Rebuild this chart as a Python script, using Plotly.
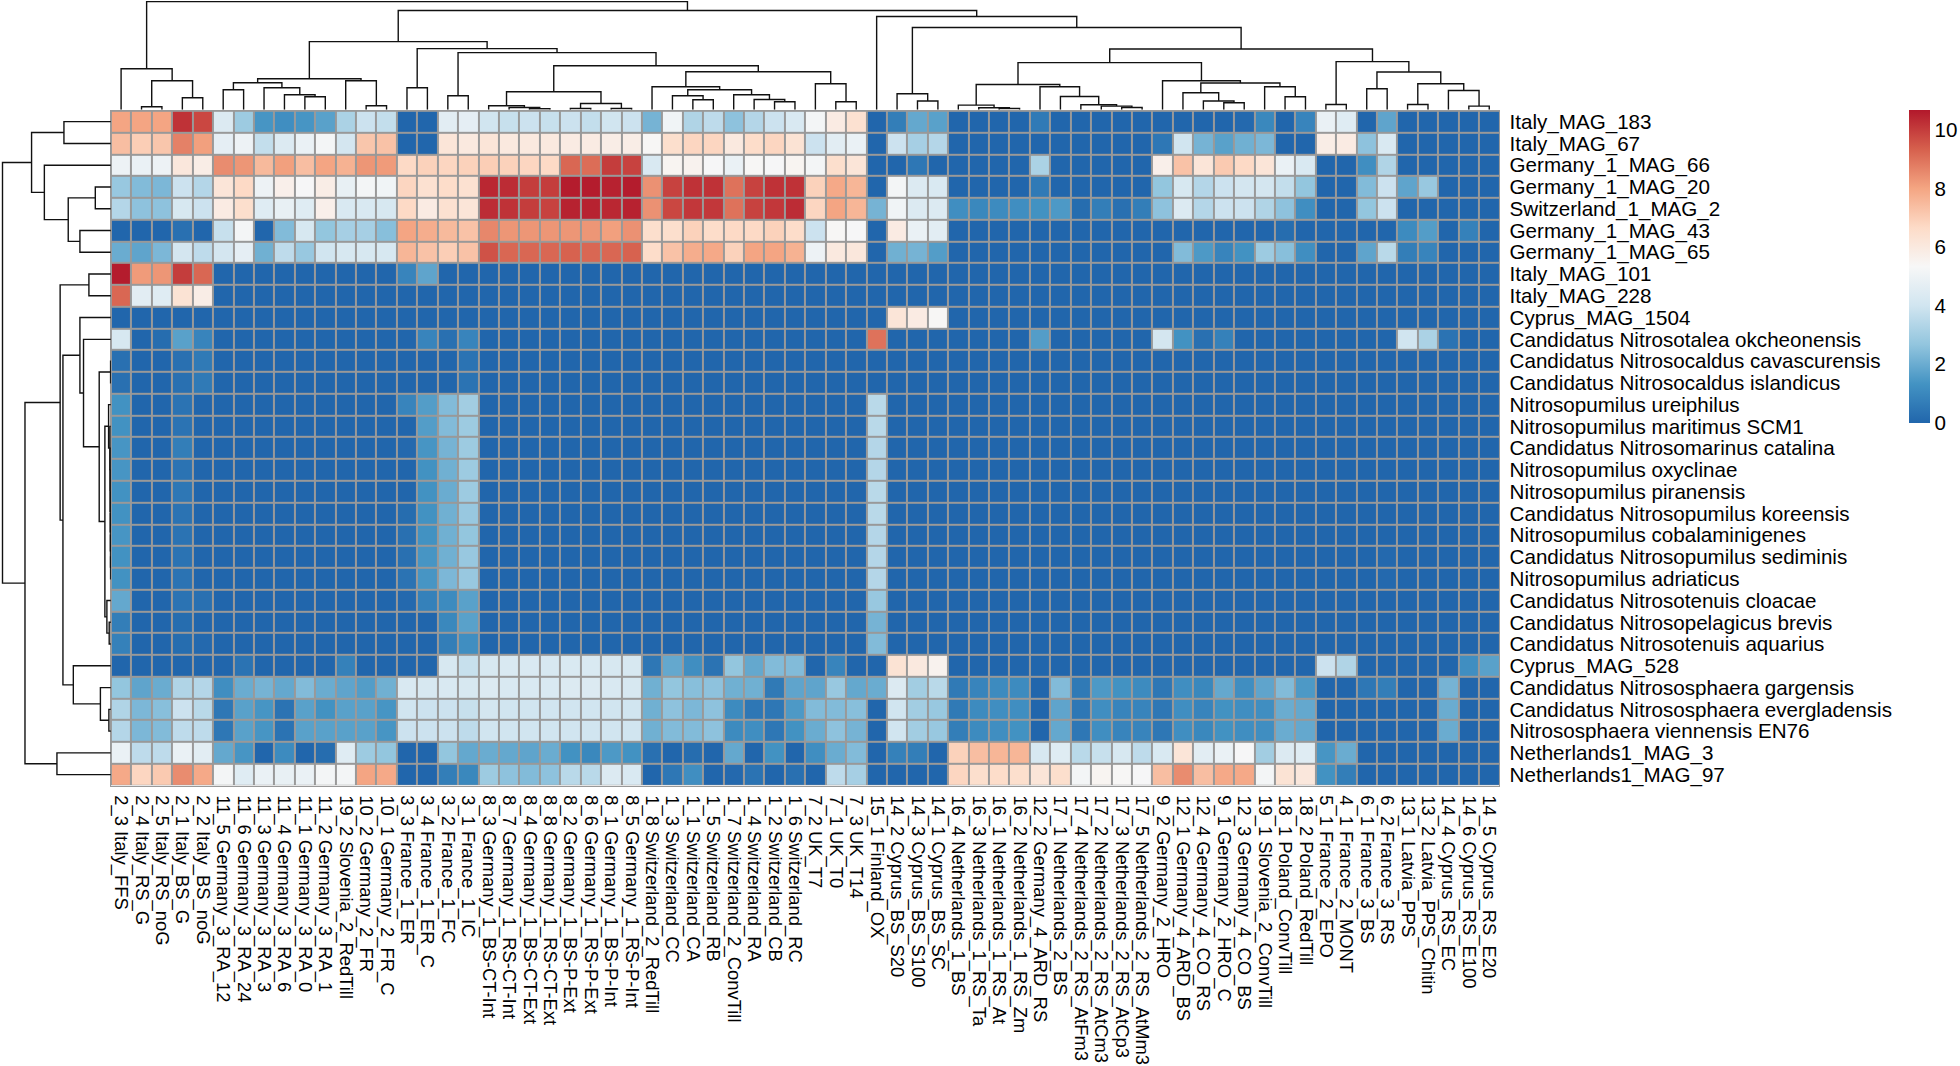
import plotly.graph_objects as go

W, H = 1960, 1066
HM_L, HM_R, HM_T, HM_B = 110, 1500, 110, 786

row_labels = ["Italy_MAG_183","Italy_MAG_67","Germany_1_MAG_66","Germany_1_MAG_20","Switzerland_1_MAG_2",
"Germany_1_MAG_43","Germany_1_MAG_65","Italy_MAG_101","Italy_MAG_228","Cyprus_MAG_1504",
"Candidatus Nitrosotalea okcheonensis","Candidatus Nitrosocaldus cavascurensis","Candidatus Nitrosocaldus islandicus",
"Nitrosopumilus ureiphilus","Nitrosopumilus maritimus SCM1","Candidatus Nitrosomarinus catalina","Nitrosopumilus oxyclinae",
"Nitrosopumilus piranensis","Candidatus Nitrosopumilus koreensis","Nitrosopumilus cobalaminigenes",
"Candidatus Nitrosopumilus sediminis","Nitrosopumilus adriaticus","Candidatus Nitrosotenuis cloacae",
"Candidatus Nitrosopelagicus brevis","Candidatus Nitrosotenuis aquarius","Cyprus_MAG_528",
"Candidatus Nitrososphaera gargensis","Candidatus Nitrososphaera evergladensis","Nitrososphaera viennensis EN76",
"Netherlands1_MAG_3","Netherlands1_MAG_97"]

col_labels = ["2_3 Italy_FFS","2_4 Italy_RS_G","2_5 Italy_RS_noG","2_1 Italy_BS_G","2_2 Italy_BS_noG",
"11_5 Germany_3_RA_12","11_6 Germany_3_RA_24","11_3 Germany_3_RA_3","11_4 Germany_3_RA_6","11_1 Germany_3_RA_0",
"11_2 Germany_3_RA_1","19_2 Slovenia_2_RedTill","10_2 Germany_2_FR","10_1 Germany_2_FR_C",
"3_3 France_1_ER","3_4 France_1_ER_C","3_2 France_1_FC","3_1 France_1_IC",
"8_3 Germany_1_BS-CT-Int","8_7 Germany_1_RS-CT-Int","8_4 Germany_1_BS-CT-Ext","8_8 Germany_1_RS-CT-Ext",
"8_2 Germany_1_BS-P-Ext","8_6 Germany_1_RS-P-Ext","8_1 Germany_1_BS-P-Int","8_5 Germany_1_RS-P-Int",
"1_8 Switzerland_2_RedTill","1_3 Switzerland_CC","1_1 Switzerland_CA","1_5 Switzerland_RB",
"1_7 Switzerland_2_ConvTill","1_4 Switzerland_RA","1_2 Switzerland_CB","1_6 Switzerland_RC",
"7_2 UK_T7","7_1 UK_T0","7_3 UK_T14","15_1 Finland_OX","14_2 Cyprus_BS_S20","14_3 Cyprus_BS_S100","14_1 Cyprus_BS_SC",
"16_4 Netherlands_1_BS","16_3 Netherlands_1_RS_Ta","16_1 Netherlands_1_RS_At","16_2 Netherlands_1_RS_Zm",
"12_2 Germany_4_ARD_RS","17_1 Netherlands_2_BS","17_4 Netherlands_2_RS_AtFm3","17_2 Netherlands_2_RS_AtCm3",
"17_3 Netherlands_2_RS_AtCp3","17_5 Netherlands_2_RS_AtMm3","9_2 Germany_2_HRO","12_1 Germany_4_ARD_BS",
"12_4 Germany_4_CO_RS","9_1 Germany_2_HRO_C","12_3 Germany_4_CO_BS","19_1 Slovenia_2_ConvTill",
"18_1 Poland_ConvTill","18_2 Poland_RedTill","5_1 France_2_EPO","4_1 France_2_MONT","6_1 France_3_BS","6_2 France_3_RS",
"13_1 Latvia_PPS","13_2 Latvia_PPS_Chitin","14_4 Cyprus_RS_EC","14_6 Cyprus_RS_E100","14_5 Cyprus_RS_E20"]

# values read per row; groups on each row follow the column clusters
values = [
[8,8,8,10.2,9.8, 4.4,2.9,1.4,1.2,1.4,1.7,3.2,3.9,3.7, 0,0,4.6,4.7, 4,3.8,3.9,3.8,3.9,3.7,4,3.9, 2.2,5.1,3.3,3.6,2.6,3.4,3.9,4.3, 5.2,5.9,6.4, 0, 0.7,1.9,1.7, 0,0,0,0,0.6,0,0,0,0,0, 0,0,0,0,0.1,1.0,0,0.9, 4.9,4.5, 0,1.8, 0,0, 0,0,0],
[7.4,7.0,7.2,8.7,8.1, 4.7,5.0,3.7,4.4,4.9,5.2,4.1,7.2,7.3, 0,0,6.2,6.0, 6.2,6.0,6.0,6.0,5.9,5.9,5.8,5.8, 5.4,6.5,6.8,6.8,6.0,6.6,6.8,6.3, 3.9,4.6,4.9, 0, 3.9,3.1,3.4, 0,0,0,0,0,0,0,0,0,0, 0.5,4.0,2.2,1.7,2.1,2.3,0,0, 5.8,5.9, 2.6,4.3, 0,0, 0,0,0],
[5.0,4.9,5.0,6.1,5.8, 8.5,8.3,7.5,8.1,7.4,8.0,7.7,8.3,8.2, 6.7,6.9,6.8,6.9, 7.0,6.9,6.8,6.7,9.2,9.1,10,9.9, 4.3,5.5,5.6,5.3,4.9,5.4,5.3,5.5, 5.2,6.5,6.2, 0, 0,0.5,0, 0,0,0,0,3.2,0,0,0,0,0, 5.7,7.3,6.2,7.1,6.7,6.2,4.9,4.3, 0,0, 1.2,3.3, 0,0, 0,0,0],
[2.8,2.4,2.3,3.9,3.4, 6.2,6.7,5.0,5.7,5.3,5.8,4.8,5.2,5.1, 6.8,6.4,6.6,6.4, 10.4,10.3,10,10,10.6,10.6,10.5,10.6, 8.4,9.9,10.2,10.2,9,9.9,10.2,10.2, 6.9,7.9,7.6, 0, 5.2,4.4,4.3, 0,0,0,0,0.6,0,0,0,0,0, 2.7,4.2,3.4,3.9,4.1,4.1,3.7,2.7, 0,0, 2.4,3.9, 1.8,2.8, 0,0,0],
[3.4,2.6,2.6,4.2,3.9, 5.9,6.5,4.5,4.8,4.5,5.7,4.3,4.3,4.2, 6.7,5.9,6.4,6.2, 10.3,10.2,10,9.9,10.5,10.5,10.4,10.5, 8.4,9.8,10.1,10.1,9,9.9,10.1,10.3, 6.8,8,7.6, 2.2, 5.1,4.4,4.4, 1.2,1.0,1.1,1.2,1.3,1.5,0.2,0.7,0.3,0.7, 2.6,4.4,3.4,3.9,3.9,3.3,2.6,1.2, 0,0, 2.7,3.9, 0,0, 0,0,0],
[0,0,0,0.3,0, 3.8,5.2,0,2.4,4.2,2.7,3.1,3.1,2.5, 8,7.8,7.5,7.3, 8.6,8.3,8.3,8.3,8.3,8.3,8.1,8.4, 6.5,6.5,6.9,6.6,6.7,6.7,6.9,6.6, 3.9,5.4,5.3, 0, 5.9,4.9,4.6, 0,0,0,0,0,0,0,0,0,0, 0,0,0,0,0,0,0.2,0, 0,0, 0,0, 1.1,1.6, 0,0.8,0],
[2.0,1.8,2.3,4.1,3.6, 4.1,4.7,2.1,3.6,2.8,4,4.2,4.2,4.2, 7.6,7.3,7.0,7.3, 9.6,9.2,9.2,9.2,9.3,9.2,9.2,9.3, 6.6,7.3,7.8,7.9,6.9,8,8,7.7, 5,6,6.1, 0, 2.1,2.2,1.6, 0,0,0,0,0,0,0,0,0,0, 0,2.4,1.5,0.9,1.3,2.9,2.5,1.2, 0,0, 1.8,3.5, 0.7,0.9, 0,0,0],
[10.6,8.2,8.3,10,9.2, 0,0,0,0,0,0,0,0,0, 0.9,1.8,0,0, 0,0,0,0,0,0,0,0, 0,0,0,0,0,0,0,0, 0,0,0, 0, 0,0,0, 0,0,0,0,0,0,0,0,0,0, 0,0,0,0,0,0,0,0, 0,0, 0,0, 0,0, 0,0,0],
[9.2,4.6,4.5,6.3,5.8, 0,0,0,0,0,0,0,0,0, 0,0,0,0, 0,0,0,0,0,0,0,0, 0,0,0,0,0,0,0,0, 0,0,0, 0, 0,0,0, 0,0,0,0,0,0,0,0,0,0, 0,0,0,0,0,0,0,0, 0,0, 0,0, 0,0, 0,0,0],
[0,0,0,0,0, 0,0,0,0,0,0,0,0,0, 0,0,0,0, 0,0,0,0,0,0,0,0, 0,0,0,0,0,0,0,0, 0,0,0, 0, 6.2,5.9,5.4, 0,0,0,0,0,0,0,0,0,0, 0,0,0,0,0,0,0,0, 0,0, 0,0, 0,0, 0,0,0],
[4.2,0,0.2,1.7,0.9, 0,0,0,0,0,0,0,0,0, 0,0.9,0.3,0.9, 0,0,0,0,0,0,0,0, 0,0,0,0,0,0,0,0, 0,0,0, 9, 0,0,0, 0,0,0,0,1.6,0,0,0,0,0, 4.1,1.3,0.3,0.8,0,0,0,0, 0,0, 0,0, 4,3.2, 0.4,0,0],
[0.3,0,0,0.3,0.6, 0,0,0,0,0,0,0,0,0, 0,0,0,0.4, 0,0,0,0,0,0,0,0, 0,0,0,0,0,0,0,0, 0,0,0, 0, 0,0,0, 0,0,0,0,0,0,0,0,0,0, 0,0,0,0,0,0,0,0, 0,0, 0,0, 0,0, 0,0,0],
[0.3,0,0,0.3,0.6, 0,0,0,0,0,0,0,0,0, 0,0,0,0.4, 0,0,0,0,0,0,0,0, 0,0,0,0,0,0,0,0, 0,0,0, 0, 0,0,0, 0,0,0,0,0,0,0,0,0,0, 0,0,0,0,0,0,0,0, 0,0, 0,0, 0,0, 0,0,0],
[1.3,0,0,0.4,0, 0,0,0,0,0,0,0,0,0, 0.9,1.6,2.4,3.0, 0,0,0,0,0,0,0,0, 0,0,0,0,0,0,0,0, 0,0,0, 3.5, 0,0,0, 0,0,0,0,0,0,0,0,0,0, 0,0,0,0,0,0,0,0, 0,0, 0,0, 0,0, 0,0,0],
[1.3,0,0,0.4,0, 0,0,0,0,0,0,0,0,0, 0,1.6,2.4,2.9, 0,0,0,0,0,0,0,0, 0,0,0,0,0,0,0,0, 0,0,0, 3.5, 0,0,0, 0,0,0,0,0,0,0,0,0,0, 0,0,0,0,0,0,0,0, 0,0, 0,0, 0,0, 0,0,0],
[1.4,0,0,0.7,0, 0,0,0,0,0,0,0,0,0, 0.1,1.4,2.2,2.9, 0,0,0,0,0,0,0,0, 0,0,0,0,0,0,0,0, 0,0,0, 3.4, 0,0,0, 0,0,0,0,0,0,0,0,0,0, 0,0,0,0,0,0,0,0, 0,0, 0,0, 0,0, 0,0,0],
[1.4,0,0,0.4,0, 0,0,0,0,0,0,0,0,0, 0,1.3,2.1,2.9, 0,0,0,0,0,0,0,0, 0,0,0,0,0,0,0,0, 0,0,0, 3.4, 0,0,0, 0,0,0,0,0,0,0,0,0,0, 0,0,0,0,0,0,0,0, 0,0, 0,0, 0,0, 0,0,0],
[1.3,0,0,0.5,0, 0,0,0,0,0,0,0,0,0, 0,1.3,2.0,2.9, 0,0,0,0,0,0,0,0, 0,0,0,0,0,0,0,0, 0,0,0, 3.5, 0,0,0, 0,0,0,0,0,0,0,0,0,0, 0,0,0,0,0,0,0,0, 0,0, 0,0, 0,0, 0,0,0],
[1.3,0,0,0.4,0, 0,0,0,0,0,0,0,0,0, 0.2,1.3,2.1,2.8, 0,0,0,0,0,0,0,0, 0,0,0,0,0,0,0,0, 0,0,0, 3.5, 0,0,0, 0,0,0,0,0,0,0,0,0,0, 0,0,0,0,0,0,0,0, 0,0, 0,0, 0,0, 0,0,0],
[1.4,0,0,0.4,0, 0,0,0,0,0,0,0,0,0, 0.3,1.3,2.1,2.7, 0,0,0,0,0,0,0,0, 0,0,0,0,0,0,0,0, 0,0,0, 3.4, 0,0,0, 0,0,0,0,0,0,0,0,0,0, 0,0,0,0,0,0,0,0, 0,0, 0,0, 0,0, 0,0,0],
[1.3,0,0,0.4,0, 0,0,0,0,0,0,0,0,0, 0.3,1.4,2.1,2.8, 0,0,0,0,0,0,0,0, 0,0,0,0,0,0,0,0, 0,0,0, 3.4, 0,0,0, 0,0,0,0,0,0,0,0,0,0, 0,0,0,0,0,0,0,0, 0,0, 0,0.1, 0,0, 0,0,0],
[1.3,0,0,0.4,0, 0,0,0,0,0,0,0,0,0, 0.4,1.4,2.3,2.8, 0,0,0,0,0,0,0,0, 0,0,0,0,0,0,0,0, 0,0,0, 3.4, 0,0,0, 0,0,0,0,0,0,0,0,0,0, 0,0,0,0,0,0,0,0, 0,0, 0,0.1, 0,0, 0,0,0],
[1.9,0,0,0.4,0.3, 0,0,0,0,0,0,0,0,0, 0.1,0.8,1.1,1.7, 0,0,0,0,0,0,0,0, 0,0,0,0,0,0,0,0, 0,0,0, 2.8, 0,0,0, 0,0,0,0,0,0,0,0,0,0, 0,0,0,0,0,0,0,0, 0,0, 0,0, 0,0, 0,0,0],
[0.7,0,0,0.2,0, 0,0,0,0,0,0,0,0,0, 0,0,1.0,1.7, 0,0,0,0,0,0,0,0, 0,0,0,0,0,0,0,0, 0,0,0, 2.2, 0,0,0, 0,0,0,0,0,0,0,0,0,0, 0,0,0,0,0,0,0,0, 0,0, 0,0, 0,0, 0,0,0],
[0.8,0,0,0.2,0.1, 0,0,0,0,0,0,0,0,0, 0,0,0.7,1.2, 0,0,0,0,0,0,0,0, 0,0,0,0,0,0,0,0, 0,0,0, 2.4, 0,0,0, 0,0,0,0,0,0,0,0,0,0, 0,0,0,0,0,0,0,0, 0,0, 0,0, 0,0, 0,0,0],
[0,0,0,0,0, 0,0.4,0,0,0,0,0.8,0,0, 0,0,4.2,3.8, 4.2,4.3,4.3,4.2,4.3,4.3,4.2,4.2, 0.5,1.9,1.2,0.4,2.7,1.9,2.4,2.4, 0,0.9,0, 0, 6.3,6,5.6, 0,0,0,0,0,0,0,0,0,0, 0,0,0,0,0,0,0,0, 3.9,3.3, 0,0, 0,0, 0,1.2,1.7],
[2.7,1.8,2.0,3.3,3.4, 1.2,2.0,2.2,1.9,2.4,2.0,1.8,1.6,2.1, 4.3,4.2,4.3,4.2, 4.4,4.3,4.3,4.3,4.4,4.4,4.3,4.2, 2.1,2.7,2.5,2.6,2.1,2.1,0.6,1.8, 1.8,2.8,1.9, 2, 4.4,3,3.5, 0.6,0.9,1.1,1.1,0,2.4,0.6,1.5,1.3,1.1, 0.5,1.2,1,1.9,1.2,1.8,2.4,1.5, 0,0, 0.5,0.7, 0,0, 2.2,0,0],
[3.3,2.3,2.5,3.9,3.5, 0.5,1.7,1.4,0.4,1.7,1.3,1.7,1.7,1.4, 4,3.9,3.9,3.8, 4.1,4,4,4,4,4,4,4, 2.1,2.6,2.3,2.6,1.1,0.5,0.5,1.5, 2.4,2.4,2.5, 0, 4,3,2.8, 0.6,1.1,1.2,1.2,0,1.8,0.5,1.2,0.9,0.9, 0.5,1.2,0.9,1.3,1.2,1.2,2,1.9, 0,0, 0,0, 0,0, 2.0,0,0],
[3.4,2.3,2.4,3.6,3.6, 0.5,1.7,1.4,0.4,1.7,1.7,1.7,1.7,1.4, 3.9,3.9,3.9,3.6, 4,4,4,4,4,4,4,4, 2.1,2.4,2.4,2.6,1.1,1.2,0.5,1.3, 2.0,2.6,2.2, 0, 4,3,2.8, 0.7,1.1,1.2,1.3,0,1.9,0.5,1.2,0.9,0.9, 0.5,1.2,1,1.3,1.2,1.2,2,1.9, 0,0, 0,0, 0,0, 2.0,0,0],
[4.9,3.6,3.6,4.9,4.6, 1.9,1.4,0,1.1,0,0.2,4.5,2.9,2.7, 0,0,2.7,1.9, 2,1.9,1.8,2.0,1.3,1.0,1.5,1.3, 0.3,0,0.2,0,1.9,0,1.3,0, 1.2,2,2.4, 0, 0.8,0.7,0, 6.9,7.4,7.6,7.6,4.2,4.5,3.5,3.8,4.2,3.6, 4.3,6.2,4.6,4.9,5.3,3,4.4,4.5, 1.4,2.0, 0,0, 0,0, 0,0,0],
[7.9,6.8,7.1,8.5,7.9, 5.2,4.5,4.9,4.8,4.9,5.2,5.2,8,7.9, 0,0,0.7,1, 2.9,2.6,2.4,2.6,3.5,3.5,4.4,4.3, 0,0.5,1.2,0,0.1,0.4,0,0.3, 0,3.6,3.1, 0, 0,0,0, 6.8,6.5,6.6,6.5,6.2,6.5,5.2,5.5,5.4,5.3, 7.4,8.5,7.4,7.9,7.9,5.2,6.3,6.1, 1.3,0.7, 0,0, 0,0, 0,0,0],
]
assert len(values) == len(row_labels) and all(len(r) == len(col_labels) for r in values)

colour_stops = ["#2166AC","#4393C3","#92C5DE","#D1E5F0","#F7F7F7","#FDDBC7","#F4A582","#D6604D","#B2182B"]
colour_ticks = [0, 2, 4, 6, 8, 10]
z_max = 10.68

# dendrograms: (height, left, right); integers are 0-based leaf positions
col_tree = (108,
  (41, 0, (29, (3, 1, 2), (12, 3, 4))),
  (99,
    (68,
      (31,
        (27, (20, 5, 6), (22, 7, (15, 8, (13, 9, 10)))),
        (29, 11, (4, 12, 13))),
      (61,
        (22, 14, 15),
        (57,
          (14, 16, 17),
          (44,
            (18,
              (4, 18, (2.3, 19, (1, 20, 21))),
              (6.3, (1.3, 22, 23), (1.3, 24, 25))),
            (38,
              (23, 26,
                (20, (14, 27, (10, 28, 29)), (15, 30, (10.3, 31, (8, 32, 33))))),
              (26, 34, (8, 35, 36))))))),
    (93, 37,
      (82,
        (16, 38, (8.7, 39, 40)),
        (60.7,
          (47,
            (25.3,
              (4.7, 41, (2, 42, (1.3, 43, 44))),
              (23, 45, (13.3, 46, (5, 47, (3.7, 48, (2.3, 49, 50)))))),
            (29, 51,
              (26.7,
                (17, 52, (8.7, 53, (7, 54, 55))),
                (23, 56, (13, 57, 58))))),
          (48,
            (5.3, 59, 60),
            (37.7,
              (21, 61, 62),
              (26, (5.3, 63, 64), (19.3, 65, (3.7, 66, 67)))))))))
)

row_tree = (108.5,
  (79.4,
    (47, 0, 1),
    (66.6, 2, (42.7, (15.6, 3, 4), (31, 5, 6)))),
  (86,
    (50.8,
      (22, 7, 8),
      (48,
        (31, 9,
          (27.4, 10,
            (11.7,
              (0.3, 11, 12),
              (6,
                (2.3, 13, (1.0, 14, (0.8, 15, (0.7, 16, (0.6, 17, (0.5, 18, (0.4, 19, (0.3, 20, 21)))))))),
                (4, 22, (1.7, 23, 24)))))),
        (37.6, 25, (10.5, 26, (2, 27, 28))))),
    (54, 29, 30)))


def walk(node, pos, hgt):
    """Return (leaf-axis position, height) of a node, collecting its bracket."""
    if isinstance(node, int):
        return node, 0
    h, a, b = node
    pa, ha = walk(a, pos, hgt)
    pb, hb = walk(b, pos, hgt)
    pos += [pa, pa, pb, pb, None]
    hgt += [ha, h, h, hb, None]
    return (pa + pb) / 2, h


col_pos, col_hgt = [], []
walk(col_tree, col_pos, col_hgt)
row_pos, row_hgt = [], []
walk(row_tree, row_pos, row_hgt)

n_rows, n_cols = len(row_labels), len(col_labels)
GRID = "#999999"
FONT = "Liberation Sans"

fig = go.Figure()
fig.add_trace(go.Heatmap(
    z=values, x=list(range(n_cols)), y=list(range(n_rows)),
    zmin=0, zmax=z_max, xgap=2, ygap=2,
    colorscale=[[i / (len(colour_stops) - 1), c] for i, c in enumerate(colour_stops)],
    hoverongaps=False,
    colorbar=dict(
        lenmode="pixels", len=313, thicknessmode="pixels", thickness=21,
        x=1910 / W, xanchor="left", y=1 - 109 / H, yanchor="top",
        xpad=0, ypad=0, outlinewidth=0, ticks="", ticklen=0,
        tickvals=colour_ticks, ticktext=[str(t) for t in colour_ticks],
        tickfont=dict(family=FONT, size=20.6, color="#000000"),
    ),
))
line = dict(color="#111111", width=1.4)
fig.add_trace(go.Scatter(x=col_pos, y=col_hgt, mode="lines", line=line, xaxis="x2", yaxis="y2",
                         hoverinfo="skip", showlegend=False, connectgaps=False))
fig.add_trace(go.Scatter(x=row_hgt, y=row_pos, mode="lines", line=line, xaxis="x3", yaxis="y3",
                         hoverinfo="skip", showlegend=False, connectgaps=False))

fig.update_layout(
    width=W, height=H, margin=dict(l=0, r=0, t=0, b=0),
    paper_bgcolor="white", plot_bgcolor="white", showlegend=False,
    font=dict(family=FONT, color="#000000"),
    xaxis=dict(domain=[HM_L / W, HM_R / W], range=[-0.5, n_cols - 0.5], side="bottom",
               tickvals=list(range(n_cols)), ticktext=col_labels, tickangle=90, ticks="", ticklen=0,
               tickfont=dict(size=18.4), showgrid=False, zeroline=False, showline=True, linecolor=GRID,
               linewidth=1, mirror=True, ticklabelstandoff=5),
    yaxis=dict(domain=[1 - HM_B / H, 1 - HM_T / H], range=[n_rows - 0.5, -0.5], side="right",
               tickvals=list(range(n_rows)), ticktext=row_labels, ticks="", ticklen=0,
               tickfont=dict(size=20.6), showgrid=False, zeroline=False, showline=True, linecolor=GRID,
               linewidth=1, mirror=True, ticklabelstandoff=5),
    xaxis2=dict(domain=[HM_L / W, HM_R / W], range=[-0.5, n_cols - 0.5], anchor="y2", visible=False),
    yaxis2=dict(domain=[1 - 109 / H, 1], range=[0, 108.5], anchor="x2", visible=False),
    xaxis3=dict(domain=[0, HM_L / W], range=[110, 0], anchor="y3", visible=False),
    yaxis3=dict(domain=[1 - HM_B / H, 1 - HM_T / H], range=[n_rows - 0.5, -0.5], anchor="x3", visible=False),
    shapes=[dict(type="rect", xref="x", yref="y", x0=-0.5, x1=n_cols - 0.5, y0=-0.5, y1=n_rows - 0.5,
                 fillcolor=GRID, line=dict(width=0), layer="below")],
)

fig.write_html("out.html", config=dict(displayModeBar=False),
               post_script="document.body.style.margin='0';document.body.style.overflow='hidden';")
